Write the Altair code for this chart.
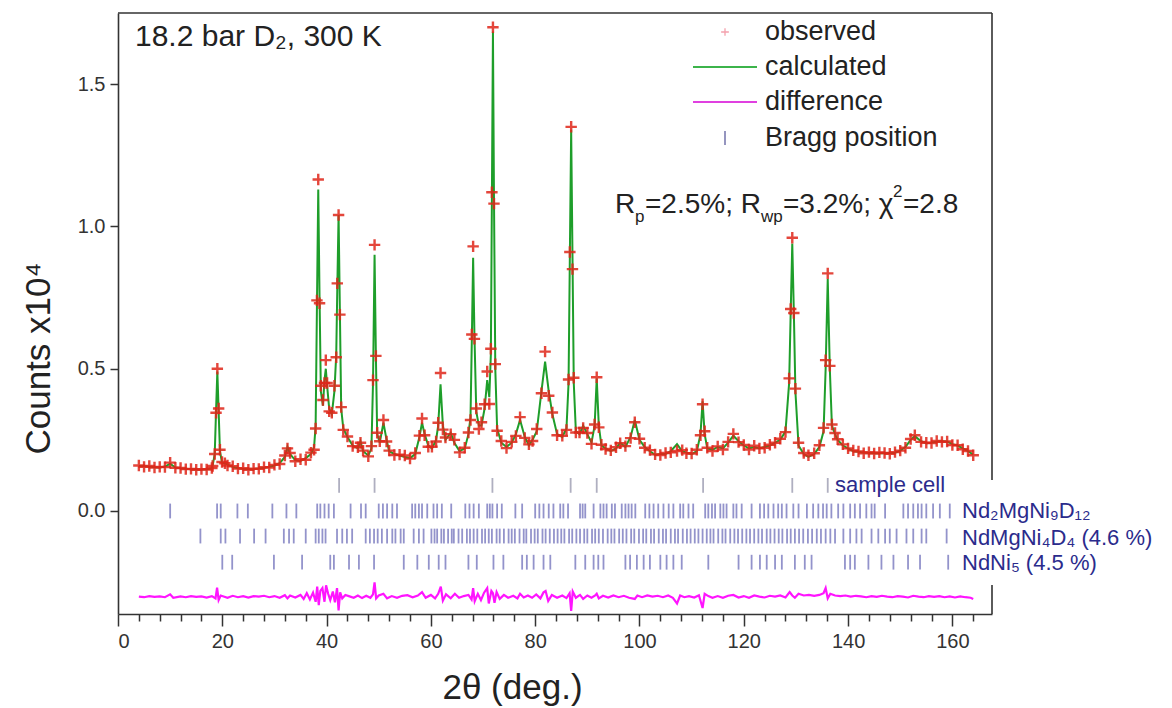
import altair as alt
import pandas as pd

FONT = "Liberation Sans"

# ---------------- data ----------------
two_theta = [
    4.0, 5.0, 6.0, 7.0, 8.0, 9.0, 10.0, 11.0, 12.0, 13.0,
    14.0, 15.0, 16.0, 17.0, 18.0, 18.15, 18.55, 18.8, 19.05, 19.3,
    19.55, 19.95, 20.5, 21.0, 22.0, 23.0, 24.0, 25.0, 26.0, 27.0,
    28.0, 29.0, 30.0, 31.0, 32.0, 32.5, 33.0, 34.0, 35.0, 36.0,
    37.0, 37.6, 37.9, 38.15, 38.4, 38.65, 38.9, 39.3, 39.6, 39.85,
    40.1, 40.5, 41.0, 41.5, 41.85, 42.05, 42.3, 42.55, 42.8, 43.2,
    44.0, 45.0, 46.0, 46.5, 47.0, 48.0, 48.6, 48.9, 49.2, 49.45,
    49.7, 50.2, 50.9, 51.5, 52.0, 53.0, 54.0, 55.0, 56.0, 57.0,
    57.8, 58.3, 58.8, 59.5, 60.2, 61.0, 61.4, 61.85, 62.3, 62.8,
    63.8, 64.5, 65.5, 66.5, 67.2, 67.6, 67.85, 68.1, 68.35, 68.7,
    69.2, 69.7, 70.3, 70.8, 71.2, 71.5, 71.7, 71.9, 72.1, 72.35,
    72.7, 73.5, 74.5, 75.5, 76.3, 77.1, 78.0, 78.8, 79.5, 80.3,
    81.2, 81.9, 82.6, 83.3, 84.2, 85.2, 86.0, 86.4, 86.65, 86.9,
    87.15, 87.4, 87.8, 88.5, 89.2, 90.0, 90.8, 91.4, 91.8, 92.2,
    92.7, 93.5, 94.5, 95.5, 96.3, 97.3, 98.3, 99.1, 100.0, 101.0,
    102.0, 103.0, 104.0, 105.0, 106.0, 107.2, 108.2, 109.0, 110.0, 111.0,
    111.7, 112.1, 112.5, 113.0, 114.0, 115.0, 116.0, 117.0, 118.0, 119.0,
    120.0, 121.0, 122.0, 123.0, 124.0, 125.0, 126.0, 127.0, 128.0, 128.7,
    129.0, 129.3, 129.6, 129.9, 130.5, 131.5, 132.4, 133.5, 134.5, 135.3,
    135.7, 136.1, 136.5, 136.9, 137.5, 138.0, 139.0, 140.0, 141.0, 142.0,
    143.0, 144.0, 145.0, 146.0, 147.0, 148.0, 149.0, 150.0, 151.0, 152.0,
    152.8, 154.0, 155.0, 156.0, 157.0, 158.0, 159.0, 160.0, 161.0, 162.0,
    163.0, 164.0,
]

y_calc = [
    .158, .157, .156, .154, .153, .156, .166, .153, .150, .148,
    .147, .146, .146, .147, .150, .160, .200, .350, .490, .350,
    .210, .170, .168, .163, .155, .150, .148, .147, .147, .149,
    .152, .155, .160, .168, .190, .225, .200, .178, .176, .186,
    .200, .225, .300, .720, 1.130, .750, .420, .370, .460, .500,
    .440, .360, .340, .420, .550, .780, 1.040, .700, .360, .290,
    .260, .230, .220, .245, .210, .195, .220, .450, .900, .550,
    .270, .240, .310, .250, .210, .200, .195, .190, .186, .200,
    .260, .310, .270, .230, .220, .250, .300, .445, .300, .250,
    .275, .240, .210, .220, .270, .330, .600, .890, .620, .350,
    .300, .300, .360, .460, .400, .550, 1.100, 1.685, 1.100, .500,
    .290, .240, .225, .240, .270, .320, .260, .230, .250, .280,
    .420, .525, .420, .340, .270, .260, .290, .450, .900, 1.340,
    .900, .450, .280, .270, .300, .270, .240, .300, .465, .300,
    .230, .220, .210, .220, .240, .225, .260, .320, .250, .225,
    .210, .197, .200, .200, .210, .235, .210, .205, .200, .210,
    .270, .385, .270, .220, .215, .225, .220, .240, .265, .245,
    .230, .220, .225, .220, .225, .230, .240, .250, .280, .450,
    .700, .940, .700, .420, .230, .200, .190, .200, .225, .280,
    .500, .815, .500, .300, .270, .250, .230, .220, .210, .208,
    .205, .205, .203, .203, .204, .203, .205, .212, .225, .250,
    .263, .245, .238, .240, .244, .245, .244, .235, .230, .220,
    .210, .198,
]

y_obs = [
    .160, .155, .158, .153, .155, .154, .170, .152, .151, .147,
    .148, .145, .147, .146, .151, .158, .200, .345, .500, .360,
    .215, .172, .168, .160, .157, .149, .150, .145, .149, .148,
    .154, .153, .162, .165, .195, .220, .204, .175, .182, .180,
    .205, .215, .290, .740, 1.165, .730, .440, .390, .450, .530,
    .450, .350, .345, .440, .540, .800, 1.040, .690, .365, .285,
    .262, .228, .224, .240, .212, .192, .228, .460, .935, .545,
    .275, .245, .320, .244, .212, .197, .198, .195, .184, .204,
    .265, .325, .266, .226, .226, .244, .310, .485, .286, .258,
    .270, .250, .206, .222, .276, .320, .620, .930, .605, .360,
    .288, .312, .375, .490, .376, .570, 1.120, 1.700, 1.080, .516,
    .282, .246, .221, .243, .264, .330, .257, .234, .246, .288,
    .414, .560, .405, .346, .266, .264, .285, .462, .910, 1.350,
    .850, .468, .276, .276, .292, .274, .236, .304, .470, .294,
    .233, .218, .213, .224, .238, .228, .256, .312, .254, .222,
    .214, .199, .197, .204, .206, .211, .214, .203, .202, .215,
    .266, .375, .280, .222, .211, .227, .216, .243, .271, .242,
    .232, .216, .229, .220, .222, .233, .240, .254, .277, .466,
    .710, .960, .696, .430, .240, .204, .196, .203, .231, .292,
    .530, .835, .510, .304, .274, .252, .234, .220, .213, .209,
    .203, .207, .202, .206, .204, .201, .207, .212, .222, .253,
    .266, .243, .240, .239, .246, .243, .244, .232, .231, .217,
    .211, .196,
]

diff_theta = [
    4, 5, 6, 7, 8, 9, 10, 10.6, 12, 13,
    14, 15, 16, 17, 18, 18.7, 19.0, 19.3, 19.7, 21,
    22, 23, 24, 25, 26, 27, 28, 29, 30, 31,
    32, 32.5, 33, 34, 35, 35.6, 36.2, 36.8, 37.4, 37.9,
    38.2, 38.5, 38.8, 39.2, 39.6, 39.9, 40.3, 40.7, 41.2, 41.6,
    42.0, 42.3, 42.6, 43.0, 43.6, 44.4, 45.2, 46.0, 46.8, 47.6,
    48.4, 48.9, 49.2, 49.5, 50.0, 50.9, 51.6, 52.5, 53.5, 54.5,
    55.5, 56.5, 57.5, 58.3, 59.0, 60.0, 60.8, 61.4, 61.9, 62.3,
    62.9, 63.8, 64.6, 65.4, 66.3, 67.2, 67.8, 68.1, 68.4, 69.0,
    69.6, 70.2, 70.8, 71.1, 71.6, 71.9, 72.2, 72.6, 73.2, 74.0,
    74.8, 75.8, 76.6, 77.1, 77.8, 78.6, 79.4, 80.2, 81.0, 81.6,
    82.0, 82.5, 83.2, 84.2, 85.2, 86.0, 86.6, 86.9, 87.2, 87.8,
    88.6, 89.2, 90.0, 90.8, 91.5, 91.8, 92.2, 93.0, 94.0, 95.0,
    96.0, 97.0, 98.0, 99.1, 99.6, 100.5, 101.5, 102.5, 103.5, 104.5,
    105.5, 106.4, 107.2, 107.8, 108.6, 109.5, 110.5, 111.4, 112.1, 112.5,
    113.2, 114, 115, 116, 117, 118, 119, 120, 121, 122,
    123, 124, 125, 126, 127, 128, 128.8, 129.3, 129.8, 130.5,
    131.5, 132.5, 133.5, 134.5, 135.3, 135.7, 136.1, 136.6, 137.5, 138.5,
    139.5, 140.5, 141.5, 142.5, 143.5, 144.5, 145.5, 146.5, 147.5, 148.5,
    149.5, 150.5, 151.5, 152.5, 153.5, 154.5, 155.5, 156.5, 157.5, 158.5,
    159.5, 160.5, 161.5, 162.5, 163.5, 164.0,
]

diff_vals = [
    .000, -.002, .002, -.001, .001, -.002, .008, -.004, .001, -.002,
    .002, -.001, .001, -.003, .002, -.006, .032, -.012, .004, -.004,
    .003, -.002, .002, -.003, .002, .000, .003, -.002, .002, -.004,
    .005, -.006, .004, -.003, .006, -.008, .012, -.010, .014, -.018,
    .035, -.030, .020, .030, -.018, .040, .010, -.012, .018, -.020,
    .030, -.048, .015, -.006, .006, .001, -.004, .004, -.005, .003,
    -.004, .008, .050, -.006, .004, .010, -.006, .002, -.004, .003,
    .005, -.002, .004, .016, -.004, .006, -.006, .010, .035, -.014,
    .008, -.006, .010, -.004, .002, .006, -.010, .030, -.016, .010,
    -.012, .014, .030, -.024, .020, .012, -.022, .016, -.008, .006,
    -.004, .003, -.006, .010, -.003, .004, -.004, .008, -.006, .015,
    .020, -.015, .006, -.004, .004, -.005, .012, -.050, .018, -.004,
    .006, -.008, .004, -.004, .004, .010, -.006, .003, -.003, .004,
    -.002, .003, -.004, -.008, .004, -.002, .004, .000, .003, -.002,
    .004, -.004, -.024, .004, -.002, .002, -.003, .005, -.040, .010,
    .002, -.004, .002, -.004, .003, .006, -.003, .002, -.004, .004,
    .000, -.003, .003, .000, .004, -.003, .016, .004, -.004, .010,
    .004, .006, .003, .006, .012, .030, -.006, .010, .004, .002,
    .004, .000, .003, .001, -.002, .002, -.001, .003, .000, -.002,
    .002, .000, -.003, .003, .000, -.002, .002, -.001, .002, -.002,
    .001, -.003, .001, -.002, -.004, -.008,
]
DIFF_OFFSET = -0.301

bragg_cell = [42.4, 49.2, 71.8, 86.8, 91.8, 112.2, 129.3, 136.1]
bragg_nd2mgni9 = [
    10.0, 19.0, 19.7, 22.9, 24.9, 29.6, 32.3, 34.2, 38.2, 38.8, 39.6, 40.4, 41.4,
    44.6, 46.6, 47.5, 50.0, 50.8, 51.6, 52.6, 53.5, 56.4, 57.0, 57.7, 58.3, 59.3,
    60.5, 61.2, 62.1, 63.9, 66.6, 67.4, 68.2, 69.2, 70.8, 71.3, 71.8, 72.7, 73.6,
    76.2, 77.5, 80.0, 80.8, 81.6, 82.6, 83.5, 84.8, 85.4, 86.3, 88.6, 89.1, 89.6,
    91.2, 92.5, 93.1, 93.7, 94.7, 95.3, 96.6, 97.3, 97.9, 98.5, 99.2, 101.1, 101.9,
    102.7, 103.6, 104.6, 105.6, 106.5, 107.8, 108.4, 109.4, 110.3, 112.6, 113.2,
    113.9, 114.5, 115.5, 116.1, 116.7, 118.0, 118.6, 119.6, 121.5, 123.1, 123.9,
    124.7, 125.7, 126.6, 127.3, 128.2, 129.5, 130.5, 132.1, 133.3, 134.3, 135.2,
    135.9, 136.8, 138.1, 139.1, 140.4, 141.3, 142.3, 143.5, 144.5, 145.1, 147.1,
    150.6, 151.5, 152.5, 153.4, 154.1, 155.0, 156.3, 157.6, 159.5,
]
bragg_ndmgni4 = [
    15.8, 19.7, 20.6, 23.4, 26.1, 28.3, 31.8, 32.8, 33.7, 36.0, 37.9, 38.5, 39.2,
    39.8, 42.0, 43.0, 43.9, 44.9, 47.5, 48.3, 49.1, 49.8, 50.6, 51.6, 52.6, 53.2,
    54.2, 54.8, 56.7, 57.7, 58.6, 60.1, 60.7, 61.2, 62.0, 62.5, 63.3, 64.0, 64.4,
    65.3, 66.0, 66.9, 67.5, 68.2, 68.9, 69.8, 70.4, 71.1, 71.7, 72.6, 73.2, 74.0,
    74.9, 75.5, 76.1, 77.0, 77.8, 78.3, 79.2, 79.9, 80.5, 81.4, 82.0, 82.8, 83.6,
    84.3, 85.0, 85.6, 86.5, 87.1, 87.9, 88.6, 89.4, 90.0, 90.9, 91.5, 92.2, 93.0,
    93.9, 94.6, 95.2, 96.1, 96.8, 97.5, 98.4, 99.0, 99.9, 100.7, 101.3, 102.2,
    102.8, 103.7, 104.5, 105.1, 106.0, 106.8, 107.4, 108.3, 109.1, 109.8, 110.6,
    111.3, 112.1, 112.9, 113.6, 114.2, 115.1, 115.9, 116.5, 117.4, 118.2, 118.9,
    119.7, 120.5, 121.2, 122.0, 122.8, 123.5, 124.4, 125.1, 125.9, 126.7, 127.4,
    128.3, 129.0, 129.8, 130.6, 131.4, 132.3, 133.1, 134.0, 134.8, 135.7, 136.6,
    137.5, 139.1, 140.4, 141.6, 142.6, 144.5, 145.8, 147.1, 148.0, 149.3, 151.2,
    152.5, 154.1, 155.0, 158.9,
]
bragg_ndni5 = [
    20.0, 21.9, 29.9, 35.3, 40.7, 41.4, 44.3, 46.2, 49.1, 54.8, 57.4, 59.6, 61.5,
    62.8, 67.2, 68.8, 72.0, 73.9, 77.5, 78.4, 79.7, 81.6, 82.9, 87.7, 89.6, 91.2,
    92.1, 93.1, 97.3, 98.2, 99.5, 100.8, 102.0, 104.0, 105.2, 106.5, 108.1, 113.2,
    119.0, 121.5, 123.1, 124.4, 126.0, 127.3, 129.8, 131.7, 133.0, 139.4, 140.4,
    141.3, 143.9, 146.4, 148.7, 151.5, 153.8, 159.2,
]
# row offsets (in units of 10^4 counts) at which each phase's reflections are drawn
bragg_row_center = {"cell": 0.090, "nd2": 0.0, "ndmg": -0.088, "ndni5": -0.180}
BRAGG_HALF = 0.026

x_tick_values = list(range(0, 168, 4))
y_tick_values = [0.0, 0.5, 1.0, 1.5]

assert len(two_theta) == len(y_calc) == len(y_obs), (len(two_theta), len(y_calc), len(y_obs))
assert len(diff_theta) == len(diff_vals), (len(diff_theta), len(diff_vals))

# ---------------- tables ----------------
profile = pd.DataFrame({"tt": two_theta, "calc": y_calc, "obs": y_obs})
diff_df = pd.DataFrame({"tt": diff_theta, "d": [v + DIFF_OFFSET for v in diff_vals]})
rows = []
for key, vals in [("cell", bragg_cell), ("nd2", bragg_nd2mgni9),
                  ("ndmg", bragg_ndmgni4), ("ndni5", bragg_ndni5)]:
    c = bragg_row_center[key]
    for v in vals:
        rows.append({"tt": v, "phase": key, "y1": c + BRAGG_HALF, "y2": c - BRAGG_HALF})
bragg_df = pd.DataFrame(rows)

# ---------------- scales / axes ----------------
W, H = 874, 601
x_scale = alt.Scale(domain=[0, 167.6], nice=False, zero=False)
y_scale = alt.Scale(domain=[-0.362, 1.75], nice=False, zero=False)

x_axis = alt.Axis(
    values=x_tick_values, format="d",
    labelExpr="datum.value % 20 === 0 ? datum.label : ''",
    tickSize={"condition": {"test": "datum.value % 20 === 0", "value": 12}, "value": 7},
    title="2θ (deg.)", titleFontSize=35, titleFont=FONT, titleFontWeight="normal",
    titleX=394, titleY=73, titleBaseline="middle", titleAlign="center", titleColor="#222",
    labelFontSize=20, labelFont=FONT, labelColor="#333", labelPadding=5,
    grid=False, domainColor="#333", domainWidth=1.6, tickColor="#333", tickWidth=1.5,
)
y_axis = alt.Axis(
    values=y_tick_values, format=".1f", tickSize=8,
    title="Counts x10⁴", titleFontSize=35, titleFont=FONT, titleFontWeight="normal",
    titleX=-80, titleY=345, titleAngle=270, titleBaseline="middle", titleAlign="center",
    titleColor="#222",
    labelFontSize=20, labelFont=FONT, labelColor="#333", labelPadding=5,
    grid=False, domainColor="#333", domainWidth=1.6, tickColor="#333", tickWidth=1.5,
)


def X(field):
    return alt.X(field, type="quantitative", scale=x_scale, axis=x_axis)


def Y(field):
    return alt.Y(field, type="quantitative", scale=y_scale, axis=y_axis)


# ---------------- data layers ----------------
diff_line = alt.Chart(diff_df).mark_line(color="#ff14ff", strokeWidth=2.2).encode(
    x=X("tt"), y=Y("d"), order="tt:Q")

bragg_colors = alt.Scale(domain=["cell", "nd2", "ndmg", "ndni5"],
                         range=["#6d6d8c", "#3a3aa0", "#3a3aa0", "#3a3aa0"])
bragg = alt.Chart(bragg_df).mark_rule(strokeWidth=1.8, opacity=0.55).encode(
    x=X("tt"), y=Y("y1"), y2="y2:Q",
    color=alt.Color("phase:N", scale=bragg_colors, legend=None))

calc_line = alt.Chart(profile).mark_line(color="#1e9e2a", strokeWidth=2.0).encode(
    x=X("tt"), y=Y("calc"), order="tt:Q")

PLUS = "M-1,0L1,0M0,-1L0,1"
obs_pts = alt.Chart(profile).mark_point(
    shape=PLUS, filled=False, size=130, strokeWidth=2.4, color="#e0261a", opacity=0.85
).encode(x=X("tt"), y=Y("obs"))

# ---------------- frame (top and right sides) ----------------
one = alt.Data(values=[{}])
frame_top = alt.Chart(one).mark_rule(color="#333", strokeWidth=1.6).encode(
    x=alt.value(0), x2=alt.value(W), y=alt.value(0))
frame_r1 = alt.Chart(one).mark_rule(color="#333", strokeWidth=1.6).encode(
    x=alt.value(W), y=alt.value(0), y2=alt.value(467))
frame_r2 = alt.Chart(one).mark_rule(color="#333", strokeWidth=1.6).encode(
    x=alt.value(W), y=alt.value(572), y2=alt.value(H))


def txt(s, x, y, size, color="#222", baseline="alphabetic", align="left"):
    return alt.Chart(one).mark_text(
        text=s, fontSize=size, font=FONT, color=color, align=align, baseline=baseline
    ).encode(x=alt.value(x), y=alt.value(y))


# ---------------- legend ----------------
leg_obs = alt.Chart(one).mark_point(shape=PLUS, filled=False, size=60, strokeWidth=1.3,
                                    color="#f07a8a").encode(x=alt.value(607), y=alt.value(19))
leg_calc = alt.Chart(one).mark_rule(color="#3cb44b", strokeWidth=1.8).encode(
    x=alt.value(575), x2=alt.value(639), y=alt.value(54))
leg_diff = alt.Chart(one).mark_rule(color="#e040e0", strokeWidth=1.8).encode(
    x=alt.value(575), x2=alt.value(639), y=alt.value(89))
leg_bragg = alt.Chart(one).mark_rule(color="#8a8ab8", strokeWidth=1.8).encode(
    x=alt.value(607), y=alt.value(118), y2=alt.value(132))

texts = [
    txt("18.2 bar D₂, 300 K", 17, 33, 30),
    txt("observed", 647, 19, 27, baseline="middle"),
    txt("calculated", 647, 54, 27, baseline="middle"),
    txt("difference", 647, 89, 27, baseline="middle"),
    txt("Bragg position", 647, 125, 27, baseline="middle"),
    # R-factors line
    txt("R", 497, 200, 28),
    txt("p", 517, 209, 17),
    txt("=2.5%; R", 527, 200, 28),
    txt("wp", 643, 209, 17),
    txt("=3.2%; χ", 665, 200, 28),
    txt("2", 775, 184, 17),
    txt("=2.8", 785, 200, 28),
    # phase labels
    txt("sample cell", 717, 472, 22, color="#2b2b8c", baseline="middle"),
    txt("Nd₂MgNi₉D₁₂", 844, 498, 22, color="#2b2b8c", baseline="middle"),
    txt("NdMgNi₄D₄ (4.6 %)", 844, 525, 22, color="#2b2b8c", baseline="middle"),
    txt("NdNi₅ (4.5 %)", 844, 550, 22, color="#2b2b8c", baseline="middle"),
]

chart = alt.layer(
    diff_line, bragg, calc_line, obs_pts,
    frame_top, frame_r1, frame_r2,
    leg_obs, leg_calc, leg_diff, leg_bragg,
    *texts,
).properties(
    width=W, height=H,
    padding={"left": 118, "top": 13, "right": 180, "bottom": 94},
    autosize=alt.AutoSizeParams(type="none"),
    background="white",
).configure_view(stroke=None)

chart.save("out.html", embed_options={"renderer": "svg", "actions": False})
